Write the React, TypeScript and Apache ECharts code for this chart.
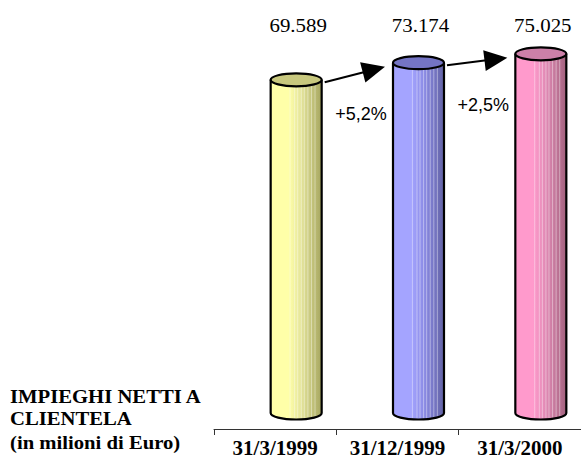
import { useEffect, useRef } from "react";
import * as echarts from "echarts";

// Net loans to customers, millions of euro
const categories = ["31/3/1999", "31/12/1999", "31/3/2000"];
const values = [69.589, 73.174, 75.025];
const growthLabels = ["+5,2%", "+2,5%"];
const titleLines = ["IMPIEGHI NETTI A", "CLIENTELA", "(in milioni di Euro)"];

// Cylinder palette: body gradient (light -> mid -> dark) and top cap colour
const palette = [
  { light: "#FFFFA8", mid: "#E4E49A", dark: "#A6A660", top: "#C8C87E" },
  { light: "#A4A4FF", mid: "#8C8CE6", dark: "#6262A4", top: "#7474C4" },
  { light: "#FF9ACC", mid: "#E08AB4", dark: "#A2627E", top: "#CC80A8" },
];

const SERIF = "Liberation Serif";
const SANS = "Liberation Sans";

export default function App() {
  const ref = useRef<HTMLDivElement>(null);

  useEffect(() => {
    document.body.style.margin = "0";
    const chart = echarts.init(ref.current!, null, { renderer: "svg" });

    const rx = 25.5;
    const ry = 6.5;
    const shift = 21;

    const renderItem = (params: any, api: any) => {
      const i = params.dataIndex;
      const v = api.value(1);
      const base = api.coord([i, 0]);
      const top = api.coord([i, v]);
      const cx = base[0] + shift;
      const left = cx - rx;
      const right = cx + rx;
      const yTop = top[1];
      const yBot = base[1];
      const c = palette[i];
      const children: any[] = [];

      children.push({
        type: "path",
        shape: {
          pathData: `M${left},${yTop} L${left},${yBot} A${rx},${ry} 0 0 0 ${right},${yBot} L${right},${yTop} Z`,
        },
        style: {
          fill: new echarts.graphic.LinearGradient(0, 0, 1, 0, [
            { offset: 0, color: c.light },
            { offset: 0.35, color: c.light },
            { offset: 0.6, color: c.mid },
            { offset: 1, color: c.dark },
          ]),
          stroke: "none",
        },
      });

      // fine vertical highlights on the body
      const stripes = [0.38, 0.47, 0.53, 0.6, 0.66, 0.73, 0.8, 0.87];
      stripes.forEach((f) => {
        const x = left + f * rx * 2;
        const dx = (x - cx) / rx;
        const yb = yBot + ry * Math.sqrt(Math.max(0, 1 - dx * dx)) - 1;
        children.push({
          type: "line",
          shape: { x1: x, y1: yTop, x2: x, y2: yb },
          style: { stroke: "rgba(255,255,255,0.4)", lineWidth: 1 },
        });
      });

      // outline of the body
      children.push({
        type: "path",
        shape: {
          pathData: `M${left},${yTop} L${left},${yBot} A${rx},${ry} 0 0 0 ${right},${yBot} L${right},${yTop}`,
        },
        style: { fill: "none", stroke: "#000", lineWidth: 2.2 },
      });

      // top cap
      children.push({
        type: "ellipse",
        shape: { cx, cy: yTop, rx, ry },
        style: { fill: c.top, stroke: "#000", lineWidth: 2.2 },
      });

      // value label
      children.push({
        type: "text",
        x: cx + 2,
        y: 25.5,
        scaleX: 1.1,
        style: {
          text: values[i].toFixed(3),
          fill: "#000",
          fontFamily: SERIF,
          fontSize: 19,
          align: "center",
          verticalAlign: "middle",
        },
      });

      // growth arrow from the previous cylinder
      if (i > 0) {
        const pBase = api.coord([i - 1, 0]);
        const pTop = api.coord([i - 1, values[i - 1]]);
        const sx = pBase[0] + shift + rx + 3;
        const sy = pTop[1] + 2.5;
        const ex = left - 8;
        const ey = yTop + 4;
        const len = Math.hypot(ex - sx, ey - sy);
        const ux = (ex - sx) / len;
        const uy = (ey - sy) / len;
        const headL = 23;
        const headW = 10.5;
        const bx = ex - ux * headL;
        const by = ey - uy * headL;
        const nx = -uy;
        const ny = ux;
        children.push({
          type: "line",
          shape: { x1: sx, y1: sy, x2: bx + ux * 2, y2: by + uy * 2 },
          style: { stroke: "#000", lineWidth: 2 },
        });
        children.push({
          type: "polygon",
          shape: {
            points: [
              [ex, ey],
              [bx + nx * headW, by + ny * headW],
              [bx - nx * headW, by - ny * headW],
            ],
          },
          style: { fill: "#000" },
        });
        children.push({
          type: "text",
          x: ex - 24,
          y: ey + 47,
          style: {
            text: growthLabels[i - 1],
            fill: "#000",
            fontFamily: SANS,
            fontSize: 18,
            align: "center",
            verticalAlign: "middle",
          },
        });
      }

      return { type: "group", children };
    };

    chart.setOption({
      animation: false,
      backgroundColor: "#fff",
      grid: { left: 214, right: -5, top: 30, bottom: 50 },
      xAxis: {
        type: "category",
        data: categories,
        offset: 16,
        axisLine: { show: true, onZero: false, lineStyle: { color: "#333", width: 1 } },
        axisTick: { show: true, interval: 0, length: 6, lineStyle: { color: "#333", width: 1 } },
        axisLabel: {
          interval: 0,
          hideOverlap: false,
          color: "#000",
          fontFamily: SERIF,
          fontWeight: "bold",
          fontSize: 21,
          margin: 8,
        },
      },
      yAxis: { type: "value", min: 0, max: 80, show: false },
      series: [
        {
          type: "custom",
          renderItem,
          data: values.map((v, i) => [i, v]),
          encode: { x: 0, y: 1 },
          clip: false,
        },
      ],
      graphic: titleLines.map((t, k) => ({
        type: "text",
        x: 10,
        y: [397, 419, 443][k],
        scaleX: 1.15,
        style: {
          text: t,
          fill: "#000",
          fontFamily: SERIF,
          fontWeight: "bold",
          fontSize: 18,
          align: "left",
          verticalAlign: "middle",
        },
      })),
    });

    return () => chart.dispose();
  }, []);

  return <div ref={ref} style={{ width: 581, height: 463 }} />;
}
